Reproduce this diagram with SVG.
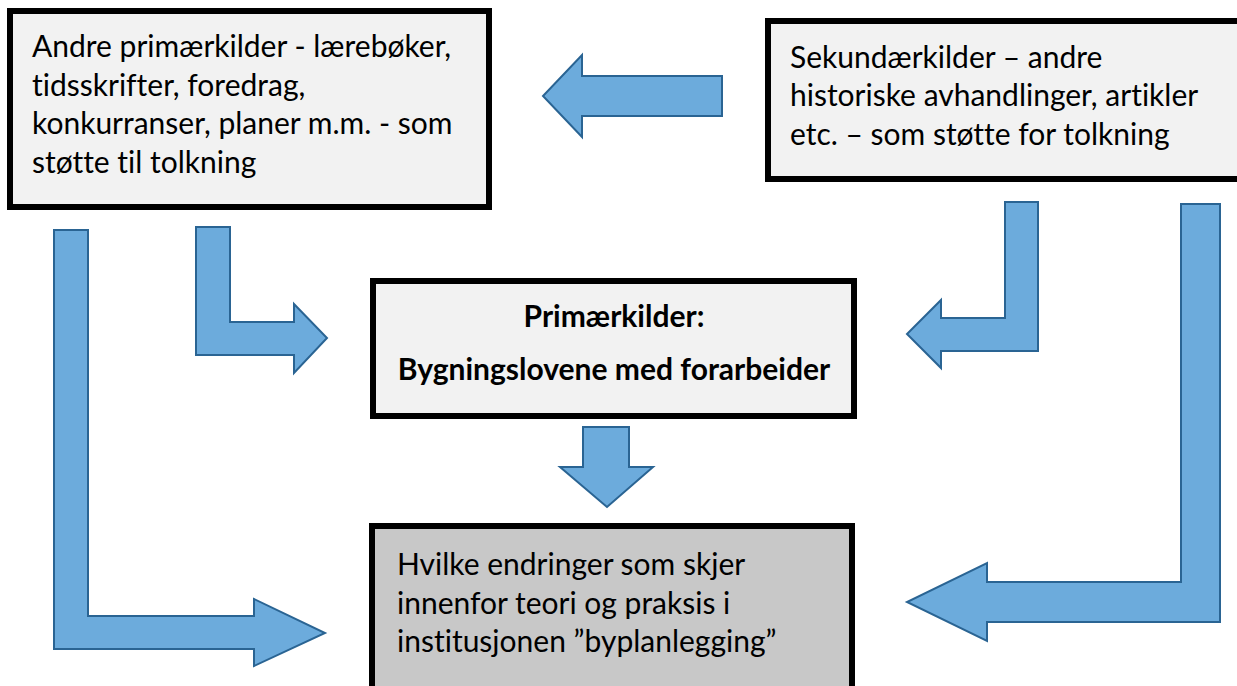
<svg xmlns="http://www.w3.org/2000/svg" width="1237" height="686" viewBox="0 0 1237 686">
<style>
.box{fill:#f2f2f2;stroke:#000;stroke-width:6}
.box2{fill:#c8c8c8;stroke:#000;stroke-width:6}
.arr{fill:#6cabdc;stroke:#2a6493;stroke-width:2;stroke-linejoin:miter}
.t{font-family:Lato,"Liberation Sans",sans-serif;font-size:30px;fill:#000;font-variant-ligatures:none}
.b{font-family:Lato,"Liberation Sans",sans-serif;font-size:30px;font-weight:bold;fill:#000;text-anchor:middle;font-variant-ligatures:none}
</style>
<rect width="1237" height="686" fill="#fff"/>
<g id="connectors">
<polygon class="arr" points="722,76 582,76 582,55 543,96 582,137 582,116 722,116"/>
<polygon class="arr" points="54,230 88,230 88,616 254,616 254,599 325,633 254,666 254,649 54,649"/>
<polygon class="arr" points="196,227 230,227 230,322 294,322 294,304 327,338 294,373 294,355 196,355"/>
<polygon class="arr" points="1038,202 1005,202 1005,318 941,318 941,300 907,334 941,368 941,351 1038,351"/>
<polygon class="arr" points="1220,204 1181,204 1181,582 987,582 987,563 907,602 987,641 987,622 1220,622"/>
<polygon class="arr" points="583,427 629,427 629,467 653,467 607,507 560,467 583,467"/>
</g>
<g id="node-andre">
<rect class="box" x="10" y="11" width="479" height="196"/>
<text class="t" x="32" y="57">Andre primærkilder - lærebøker,</text>
<text class="t" x="32" y="96">tidsskrifter, foredrag,</text>
<text class="t" x="32" y="134">konkurranser, planer m.m. - som</text>
<text class="t" x="32" y="173">støtte til tolkning</text>
</g>
<g id="node-sekundaer">
<rect class="box" x="768" y="21" width="480" height="158"/>
<text class="t" x="790" y="68">Sekundærkilder – andre</text>
<text class="t" x="790" y="106">historiske avhandlinger, artikler</text>
<text class="t" x="790" y="145">etc. – som støtte for tolkning</text>
</g>
<g id="node-primaer">
<rect class="box" x="373" y="281" width="481" height="135"/>
<text class="b" x="614" y="327">Primærkilder:</text>
<text class="b" x="614" y="380">Bygningslovene med forarbeider</text>
</g>
<g id="node-endringer">
<rect class="box2" x="372" y="526" width="480" height="170"/>
<text class="t" x="397" y="575">Hvilke endringer som skjer</text>
<text class="t" x="397" y="614">innenfor teori og praksis i</text>
<text class="t" x="397" y="652">institusjonen ”byplanlegging”</text>
</g>
</svg>
